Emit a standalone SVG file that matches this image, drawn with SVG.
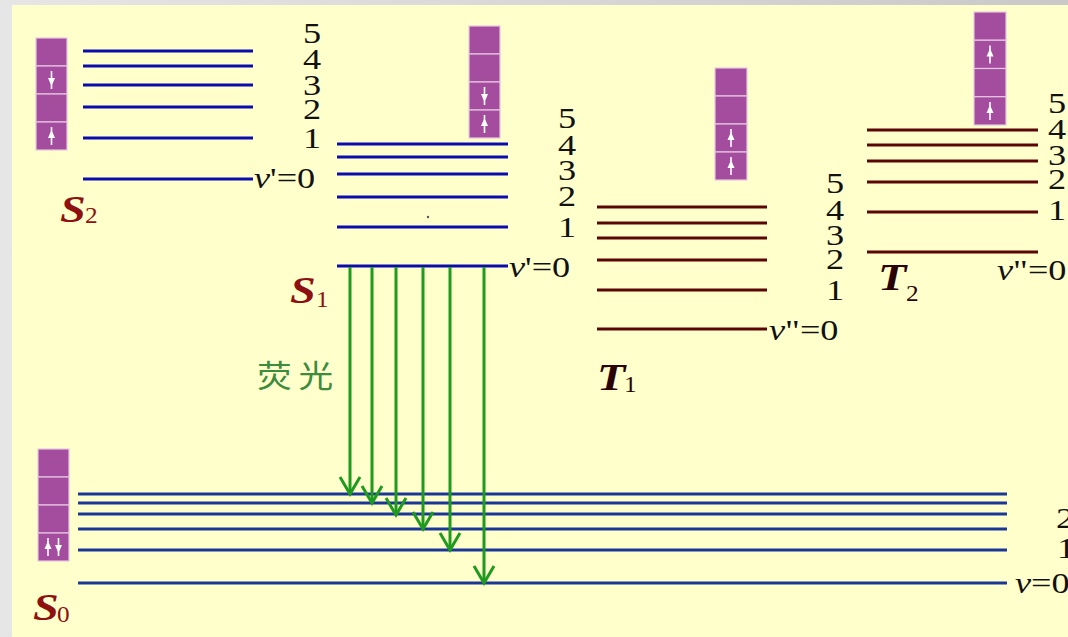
<svg xmlns="http://www.w3.org/2000/svg" xmlns:xlink="http://www.w3.org/1999/xlink" width="1068" height="637" viewBox="0 0 1068 637">
<style>
.cell{fill:#a44d9f;stroke:#e6c6e2;stroke-width:1.2}
.blue{stroke:#0c0cae;stroke-width:3;fill:none}
.navy{stroke:#1a3797;stroke-width:3;fill:none}
.brown{stroke:#5a0606;stroke-width:3;fill:none}
.num{font-size:29px;fill:#111}
.it{font-style:italic}
.big{font-size:37px;font-weight:bold;font-style:italic}
.sub{font-size:23px}
.red{fill:#8e1010}
.dk{fill:#2a0404}
.fl{stroke:#1f9a1f;stroke-width:3;fill:none}
.cn{font-size:31px;fill:#3d8b3d;letter-spacing:6px}
</style>
<defs>
<linearGradient id="edge" x1="0" y1="0" x2="1" y2="0">
<stop offset="0" stop-color="#e6e6e6"/>
<stop offset="1" stop-color="#c9c9c9"/>
</linearGradient>
<g id="up">
<line x1="0" y1="9" x2="0" y2="-9" stroke="#fff" stroke-width="1.6"/>
<polygon points="0,-6 -3.5,2 3.5,2" fill="#fff"/>
</g>
<g id="down">
<line x1="0" y1="-9" x2="0" y2="9" stroke="#fff" stroke-width="1.6"/>
<polygon points="0,6 -3.5,-2 3.5,-2" fill="#fff"/>
</g>
<marker id="vhead" viewBox="-20 -12 24 24" markerWidth="24" markerHeight="24" refX="0" refY="0" orient="auto" markerUnits="userSpaceOnUse">
<path d="M-17,-10 L0,0 L-17,10" fill="none" stroke="#1f9a1f" stroke-width="3"/>
</marker>
</defs>

<rect x="0" y="0" width="1068" height="637" fill="url(#edge)"/>
<rect x="12" y="5" width="1056" height="632" fill="#ffffcc"/>

<g font-family="Liberation Serif, serif">
<g id="S2">
<rect class="cell" x="36" y="38" width="31" height="28"/>
<rect class="cell" x="36" y="66" width="31" height="28"/>
<rect class="cell" x="36" y="94" width="31" height="28"/>
<rect class="cell" x="36" y="122" width="31" height="28"/>
<use xlink:href="#down" x="51.5" y="80"/>
<use xlink:href="#up" x="51.5" y="136"/>
<path class="blue" d="M83,51H253M83,66H253M83,85H253M83,107H253M83,138H253M83,179H253"/>
<text class="num" transform="translate(303,43) scale(1.25,1)">5</text>
<text class="num" transform="translate(303,69) scale(1.25,1)">4</text>
<text class="num" transform="translate(303,95) scale(1.25,1)">3</text>
<text class="num" transform="translate(303,119) scale(1.25,1)">2</text>
<text class="num" transform="translate(303,148) scale(1.25,1)">1</text>
<text class="num" transform="translate(254,188) scale(1.25,1)"><tspan class="it">v</tspan>'=0</text>
<text class="big red" transform="translate(60,222) scale(1.25,1)">S</text>
<text class="sub red" transform="translate(85,223) scale(1.1,1)">2</text>
</g>

<g id="S1">
<rect class="cell" x="469" y="26" width="31" height="28"/>
<rect class="cell" x="469" y="54" width="31" height="28"/>
<rect class="cell" x="469" y="82" width="31" height="28"/>
<rect class="cell" x="469" y="110" width="31" height="28"/>
<use xlink:href="#down" x="484.5" y="96"/>
<use xlink:href="#up" x="484.5" y="124"/>
<path class="blue" d="M337,144H508M337,157H508M337,174H508M337,197H508M337,227H508M337,266H508"/>
<circle cx="428" cy="217" r="1.2" fill="#555"/>
<text class="num" transform="translate(558,128) scale(1.25,1)">5</text>
<text class="num" transform="translate(558,155) scale(1.25,1)">4</text>
<text class="num" transform="translate(558,180) scale(1.25,1)">3</text>
<text class="num" transform="translate(558,206) scale(1.25,1)">2</text>
<text class="num" transform="translate(558,237) scale(1.25,1)">1</text>
<text class="num" transform="translate(509,277) scale(1.25,1)"><tspan class="it">v</tspan>'=0</text>
<text class="big red" transform="translate(290,303) scale(1.25,1)">S</text>
<text class="sub red" transform="translate(316,307) scale(1.1,1)">1</text>
</g>

<g id="T1">
<rect class="cell" x="715" y="68" width="32" height="28"/>
<rect class="cell" x="715" y="96" width="32" height="28"/>
<rect class="cell" x="715" y="124" width="32" height="28"/>
<rect class="cell" x="715" y="152" width="32" height="28"/>
<use xlink:href="#up" x="731" y="138"/>
<use xlink:href="#up" x="731" y="166"/>
<path class="brown" d="M597,207H767M597,223H767M597,238H767M597,260H767M597,290H767M597,329H767"/>
<text class="num" transform="translate(826,193) scale(1.25,1)">5</text>
<text class="num" transform="translate(826,220) scale(1.25,1)">4</text>
<text class="num" transform="translate(826,245) scale(1.25,1)">3</text>
<text class="num" transform="translate(826,269) scale(1.25,1)">2</text>
<text class="num" transform="translate(826,300) scale(1.25,1)">1</text>
<text class="num" transform="translate(769,340) scale(1.25,1)"><tspan class="it">v</tspan>"=0</text>
<text class="big dk" transform="translate(597,390) scale(1.25,1)">T</text>
<text class="sub dk" transform="translate(624,392) scale(1.1,1)">1</text>
</g>

<g id="T2">
<rect class="cell" x="974" y="12" width="32" height="28.25"/>
<rect class="cell" x="974" y="40.25" width="32" height="28.25"/>
<rect class="cell" x="974" y="68.5" width="32" height="28.25"/>
<rect class="cell" x="974" y="96.75" width="32" height="28.25"/>
<use xlink:href="#up" x="990" y="54.4"/>
<use xlink:href="#up" x="990" y="110.9"/>
<path class="brown" d="M867,130H1038M867,145H1038M867,161H1038M867,182H1038M867,212H1038M867,252H1038"/>
<text class="num" transform="translate(1048,113) scale(1.25,1)">5</text>
<text class="num" transform="translate(1048,139) scale(1.25,1)">4</text>
<text class="num" transform="translate(1048,165) scale(1.25,1)">3</text>
<text class="num" transform="translate(1048,189) scale(1.25,1)">2</text>
<text class="num" transform="translate(1048,220) scale(1.25,1)">1</text>
<text class="num" transform="translate(997,280) scale(1.25,1)"><tspan class="it">v</tspan>"=0</text>
<text class="big dk" transform="translate(878,290) scale(1.25,1)">T</text>
<text class="sub dk" transform="translate(906,301) scale(1.1,1)">2</text>
</g>

<g id="S0">
<rect class="cell" x="38" y="449" width="31" height="28"/>
<rect class="cell" x="38" y="477" width="31" height="28"/>
<rect class="cell" x="38" y="505" width="31" height="28"/>
<rect class="cell" x="38" y="533" width="31" height="28"/>
<use xlink:href="#up" x="48" y="547"/>
<use xlink:href="#down" x="58.5" y="547"/>
<path class="navy" d="M78,494H1007M78,503H1007M78,514H1007M78,529H1007M78,550H1007M78,583H1007"/>
<text class="num" transform="translate(1056,528) scale(1.25,1)">2</text>
<text class="num" transform="translate(1057,558) scale(1.25,1)">1</text>
<text class="num" transform="translate(1015,593) scale(1.25,1)"><tspan class="it">v</tspan>=0</text>
<text class="big red" transform="translate(33,620) scale(1.25,1)">S</text>
<text class="sub red" transform="translate(57,622) scale(1.1,1)">0</text>
</g>
</g>

<g id="fluorescence-label" font-family="Noto Sans CJK SC, sans-serif">
<text class="cn" transform="translate(257,387) scale(1.12,1)">荧光</text>
</g>

<g id="connectors">
<path class="fl" marker-end="url(#vhead)" d="M350,267V494"/>
<path class="fl" marker-end="url(#vhead)" d="M372,267V503"/>
<path class="fl" marker-end="url(#vhead)" d="M396,267V515"/>
<path class="fl" marker-end="url(#vhead)" d="M423,267V529"/>
<path class="fl" marker-end="url(#vhead)" d="M450,267V550"/>
<path class="fl" marker-end="url(#vhead)" d="M484,267V583"/>
</g>
</svg>
